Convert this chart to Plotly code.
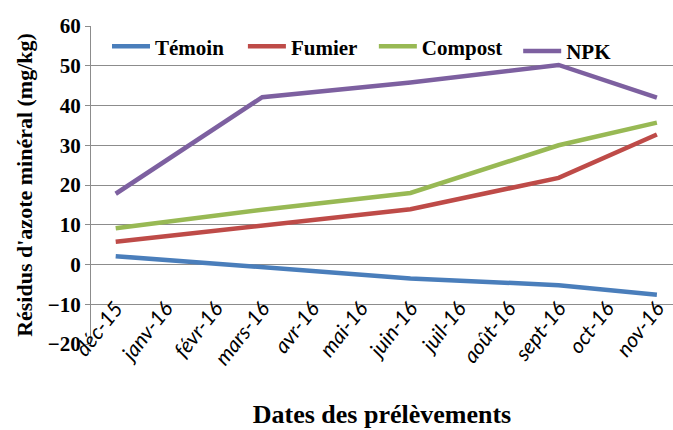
import plotly.graph_objects as go

# Sampling dates and mineral nitrogen residues (mg/kg)
dates = ["2015-12-01", "2016-03-01", "2016-06-01", "2016-09-01", "2016-11-01"]
temoin = [2.1, -0.8, -3.5, -5.2, -7.6]
fumier = [5.7, 9.8, 13.9, 21.8, 32.7]
compost = [9.1, 13.8, 18.0, 30.0, 35.7]
npk = [17.8, 42.1, 45.8, 50.2, 42.0]

series_names = ["Témoin", "Fumier", "Compost", "NPK"]
series_values = [temoin, fumier, compost, npk]
series_colors = ["#4A7EBB", "#BE4B48", "#98B954", "#7D60A0"]

month_ticks = ["2015-12-01", "2016-01-01", "2016-02-01", "2016-03-01", "2016-04-01",
               "2016-05-01", "2016-06-01", "2016-07-01", "2016-08-01", "2016-09-01",
               "2016-10-01", "2016-11-01"]
month_labels = ["déc-15", "janv-16", "févr-16", "mars-16", "avr-16", "mai-16",
                "juin-16", "juil-16", "août-16", "sept-16", "oct-16", "nov-16"]
y_ticks = [-20, -10, 0, 10, 20, 30, 40, 50, 60]

serif = "Liberation Serif, Times New Roman, serif"

fig = go.Figure()
legend_ids = ["legend", "legend2", "legend3", "legend4"]
for name, vals, col, lg in zip(series_names, series_values, series_colors, legend_ids):
    fig.add_trace(go.Scatter(
        x=dates, y=vals, name=name, mode="lines",
        line=dict(color=col, width=4.5),
        legend=lg,
    ))

legend_font = dict(family=serif, size=21, color="black", weight="bold")
legend_pos = [(0.0275, 0.935), (0.261, 0.935), (0.486, 0.935), (0.734, 0.92)]
legend_layout = {}
for lg, (lx, ly) in zip(legend_ids, legend_pos):
    legend_layout[lg] = dict(
        x=lx, y=ly, xanchor="left", yanchor="middle",
        orientation="h", font=legend_font, bgcolor="rgba(0,0,0,0)",
        borderwidth=0, itemwidth=38,
    )

fig.update_layout(
    width=673, height=430,
    margin=dict(l=91, r=0, t=26, b=86),
    paper_bgcolor="white", plot_bgcolor="white",
    showlegend=True,
    **legend_layout,
    xaxis=dict(
        type="date",
        range=["2015-11-15 16:00", "2016-11-11"],
        tickvals=month_ticks, ticktext=month_labels,
        tickangle=-52,
        tickfont=dict(family="Lato, Carlito, sans-serif", size=21, color="black", style="italic"),
        showgrid=False, zeroline=False, showline=False, ticks="",
        anchor="free", position=0.167,
        title=dict(text="Dates des prélèvements",
                   font=dict(family=serif, size=26, color="black", weight="bold"),
                   standoff=36),
    ),
    yaxis=dict(
        range=[-20, 60], tickvals=y_ticks,
        tickfont=dict(family=serif, size=21, color="black", weight="bold"),
        showgrid=True, gridcolor="#8c8c8c", gridwidth=1.3,
        zeroline=False,
        showline=True, linecolor="#8c8c8c", linewidth=1.3,
        ticks="outside", ticklen=5, tickcolor="#8c8c8c",
        title=dict(text="Résidus d'azote minéral (mg/kg)",
                   font=dict(family=serif, size=22, color="black", weight="bold"),
                   standoff=8),
    ),
)

fig.write_html("out.html")
